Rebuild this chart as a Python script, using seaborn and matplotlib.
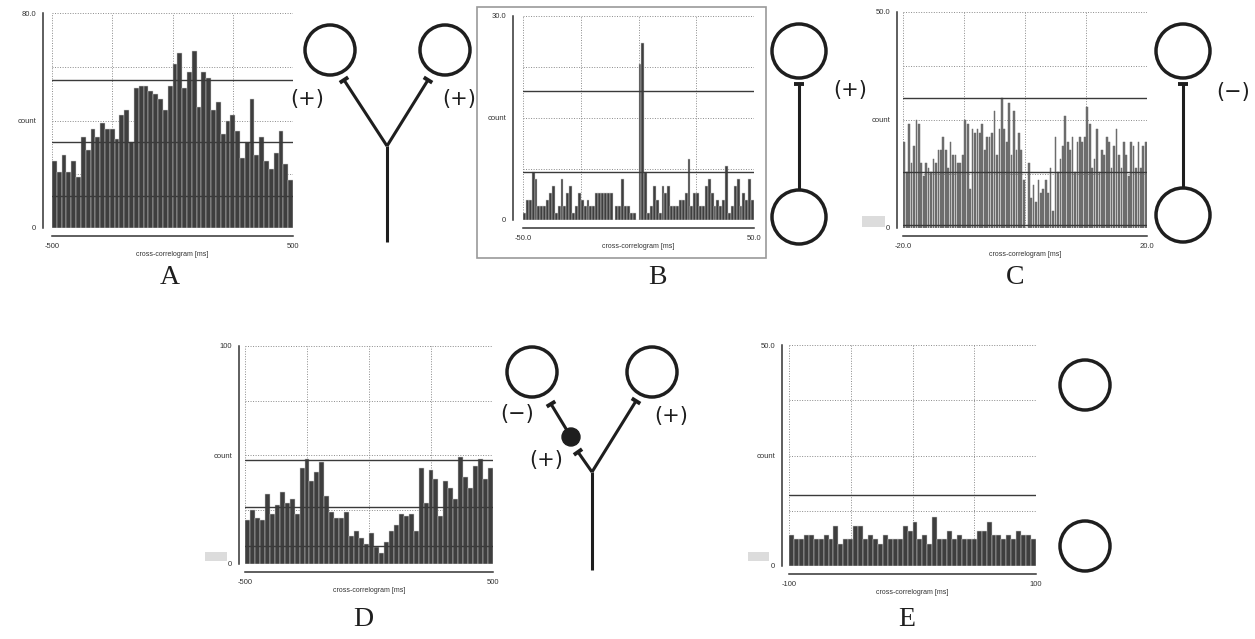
import matplotlib
matplotlib.use('Agg')
import matplotlib.pyplot as plt
import seaborn as sns
import numpy as np
from matplotlib.patches import Circle, Rectangle

# Correlogram counts (one value per bin)
a_counts = [25, 21, 27, 21, 25, 19, 34, 29, 37, 34, 39, 37, 37, 33, 42, 44, 32, 52, 53, 53,
            51, 50, 48, 44, 53, 61, 65, 52, 58, 66, 45, 58, 56, 44, 47, 35, 40, 42, 36, 26,
            32, 48, 27, 34, 25, 22, 28, 36, 24, 18]
b_counts = [1, 3, 3, 7, 6, 2, 2, 2, 3, 4, 5, 1, 2, 6, 2, 4, 5, 1, 2, 4,
            3, 2, 3, 2, 2, 4, 4, 4, 4, 4, 4, 0, 2, 2, 6, 2, 2, 1, 1, 0,
            23, 26, 7, 1, 2, 5, 3, 1, 5, 4, 5, 2, 2, 2, 3, 3, 4, 9, 2, 4,
            4, 2, 2, 5, 6, 4, 2, 3, 2, 3, 8, 1, 2, 5, 6, 2, 4, 3, 6, 3]
c_counts = [20, 13, 24, 15, 19, 25, 24, 15, 12, 15, 14, 13, 16, 15, 18, 18, 21, 18, 14, 20,
            17, 17, 15, 15, 17, 25, 24, 9, 23, 22, 23, 22, 24, 18, 21, 21, 22, 27, 17, 23,
            30, 23, 20, 29, 17, 27, 18, 22, 18, 11,
            0, 15, 7, 10, 6, 11, 8, 9, 11, 8, 14, 4, 21, 13, 16, 19, 26, 20, 18, 21,
            13, 20, 21, 20, 21, 28, 24, 14, 16, 23, 13, 18, 17, 21, 20, 14, 19, 23, 17, 14,
            20, 17, 12, 20, 19, 14, 20, 14, 19, 20]
d_counts = [20, 25, 21, 20, 32, 23, 27, 33, 28, 30, 23, 44, 48, 38, 42, 47, 31, 24, 21, 21,
            24, 13, 15, 12, 9, 14, 8, 5, 10, 15, 18, 23, 22, 23, 15, 44, 28, 43, 39, 22,
            38, 35, 30, 49, 40, 35, 45, 48, 39, 44]
e_counts = [7, 6, 6, 7, 7, 6, 6, 7, 6, 9, 5, 6, 6, 9, 9, 6, 7, 6, 5, 7,
            6, 6, 6, 9, 8, 10, 6, 7, 5, 11, 6, 6, 8, 6, 7, 6, 6, 6, 8, 8,
            10, 7, 7, 6, 7, 6, 8, 7, 7, 6]

# lag ranges (ms), y maxima and their labels
a_span, b_span, c_span, d_span, e_span = (-500, 500), (-50, 50), (-20, 20), (-500, 500), (-100, 100)
a_xlabels = ['-500', '', '500']
b_xlabels = ['-50.0', '', '50.0']
c_xlabels = ['-20.0', '', '20.0']
d_xlabels = ['-500', '', '500']
e_xlabels = ['-100', '', '100']
a_ymax, b_ymax, c_ymax, d_ymax, e_ymax = 80, 30, 50, 100, 50
a_ytop, b_ytop, c_ytop, d_ytop, e_ytop = '80.0', '30.0', '50.0', '100', '50.0'

# significance levels drawn as horizontal lines
a_levels = [55, 32, 12]
b_levels = [19, 7]
c_levels = [30, 13, 0.6]
d_levels = [47.5, 26.3, 8.3]
e_levels = [16]

panel_labels = ['A', 'B', 'C', 'D', 'E']

sns.set_style('white')
plt.rcParams['font.family'] = ['Liberation Sans', 'DejaVu Sans']

W, H = 1255, 639
fig = plt.figure(figsize=(W / 100, H / 100), dpi=100)


def px_rect(x0, y0, x1, y1):
    return [x0 / W, 1 - y1 / H, (x1 - x0) / W, (y1 - y0) / H]


def correlogram(box, counts, span, ymax, ytop, xlabels, levels,
                color='#3e3e3e', edge='#cfcfcf', shrink=1.0, yoff=6, xoff=6):
    ax = fig.add_axes(px_rect(*box))
    n = len(counts)
    lo, hi = span
    w = (hi - lo) / n
    centers = np.linspace(lo + w / 2, hi - w / 2, n)
    sns.histplot(x=centers, weights=counts, bins=n, binrange=span, shrink=shrink,
                 color=color, alpha=1, edgecolor=edge, linewidth=0.35, ax=ax, zorder=2)
    # dotted grid at quarters plus dotted frame
    for k in range(5):
        ax.axhline(ymax * k / 4, color='#8a8a8a', ls=(0, (1, 1.6)), lw=0.7, zorder=1)
        ax.axvline(lo + (hi - lo) * k / 4, color='#8a8a8a', ls=(0, (1, 1.6)), lw=0.7, zorder=1)
    for lv in levels:
        ax.axhline(lv, color='#3a3a3a', lw=1.0, zorder=3)
    ax.set_xlim(lo, hi)
    ax.set_ylim(0, ymax)
    ax.set_yticks([0, ymax / 2, ymax], ['0', 'count', ytop])
    ax.set_xticks([lo, 0, hi], xlabels)
    ax.set_ylabel('')
    ax.set_xlabel('cross-correlogram [ms]', fontsize=5, labelpad=1, color='#333333')
    ax.tick_params(axis='both', direction='out', length=3, width=1, labelsize=5.5,
                   pad=2, color='#333333', labelcolor='#333333')
    for s in ['top', 'right']:
        ax.spines[s].set_visible(False)
    ax.spines['left'].set_position(('outward', yoff * 0.72))
    ax.spines['bottom'].set_position(('outward', xoff * 0.72))
    ax.spines['left'].set_bounds(0, ymax)
    ax.spines['bottom'].set_bounds(lo, hi)
    for s in ['left', 'bottom']:
        ax.spines[s].set_color('#333333')
        ax.spines[s].set_linewidth(1.1)
    ax.set_facecolor('none')
    return ax


correlogram((52, 13, 293, 228), a_counts, a_span, a_ymax, a_ytop, a_xlabels, a_levels, yoff=9, xoff=8)
correlogram((523, 16, 754, 220), b_counts, b_span, b_ymax, b_ytop, b_xlabels, b_levels, yoff=10, xoff=8)
correlogram((903, 12, 1147, 228), c_counts, c_span, c_ymax, c_ytop, c_xlabels, c_levels,
            color='#6c6c6c', edge='#6c6c6c', shrink=0.7, yoff=6, xoff=8)
correlogram((245, 346, 493, 564), d_counts, d_span, d_ymax, d_ytop, d_xlabels, d_levels, yoff=6, xoff=8)
correlogram((789, 345, 1036, 566), e_counts, e_span, e_ymax, e_ytop, e_xlabels, e_levels, yoff=7, xoff=8)

# overlay in pixel coordinates for schematics, labels and frames
ov = fig.add_axes([0, 0, 1, 1])
ov.set_xlim(0, W)
ov.set_ylim(H, 0)
ov.axis('off')
ov.patch.set_alpha(0)

LW = 2.2
INK = '#1e1e1e'


def neuron(x, y, r=25):
    ov.add_patch(Circle((x, y), r, fill=False, lw=LW + 0.3, ec=INK))


def axon(p0, p1, bar=True):
    ov.plot([p0[0], p1[0]], [p0[1], p1[1]], color=INK, lw=LW, solid_capstyle='butt')
    if bar:
        dx, dy = p1[0] - p0[0], p1[1] - p0[1]
        L = np.hypot(dx, dy)
        px, py = -dy / L * 5, dx / L * 5
        ov.plot([p1[0] - px, p1[0] + px], [p1[1] - py, p1[1] + py], color=INK, lw=LW + 0.6,
                solid_capstyle='butt')


def sign(x, y, s):
    ov.text(x, y, s, fontsize=15, ha='center', va='center', color=INK,
            family=['DejaVu Sans'])


# A: common input to two neurons
neuron(330, 50)
neuron(445, 50)
axon((387, 146), (344, 80))
axon((387, 146), (428, 80))
axon((387, 146), (387, 242), bar=False)
sign(307, 99, '(+)')
sign(459, 99, '(+)')

# B: excitatory connection
ov.add_patch(Rectangle((477, 7), 289, 251, fill=False, ec='#9a9a9a', lw=1.2))
neuron(799, 51, 27)
neuron(799, 217, 27)
axon((799, 189), (799, 84))
sign(850, 90, '(+)')

# C: inhibitory connection
neuron(1183, 51, 27)
neuron(1183, 215, 27)
axon((1183, 187), (1183, 84))
sign(1233, 92, '(−)')

# D: common input with inhibitory interneuron
neuron(532, 372)
neuron(652, 372)
axon((592, 472), (578, 452))
ov.add_patch(Circle((571, 437), 9, color=INK))
axon((571, 437), (551, 404))
axon((592, 472), (636, 401))
axon((592, 472), (592, 570), bar=False)
sign(517, 414, '(−)')
sign(671, 416, '(+)')
sign(546, 460, '(+)')

# E: independent neurons
neuron(1085, 385)
neuron(1085, 546)

# small gray boxes next to zero labels
for (x0, y0, w0, h0) in [(862, 216, 23, 11), (205, 552, 22, 9), (748, 552, 21, 9)]:
    ov.add_patch(Rectangle((x0, y0), w0, h0, color='#dcdcdc', lw=0))

for lab, (x, y) in zip(panel_labels, [(170, 278), (657, 278), (1015, 278), (363, 620), (907, 620)]):
    ov.text(x, y, lab, fontsize=20, ha='center', va='center', color=INK,
            family=['Liberation Serif', 'DejaVu Serif'])

fig.savefig('out.png', dpi=100)
